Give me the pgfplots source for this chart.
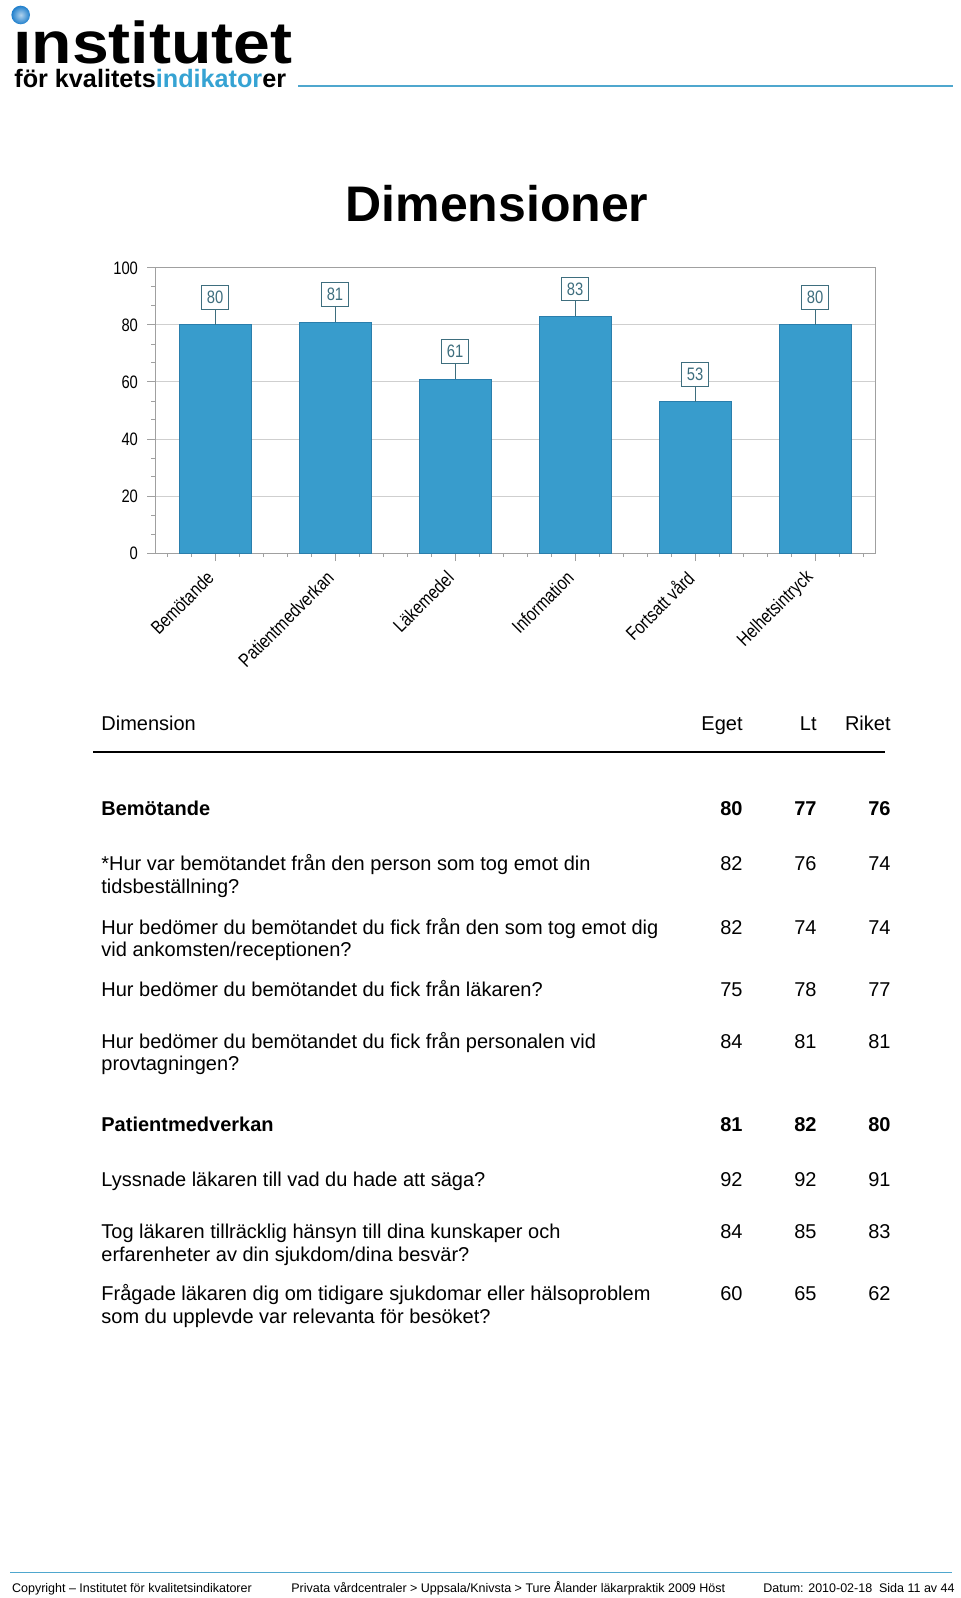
\documentclass[border=0pt]{standalone}
\usepackage{fontspec}
\setmainfont{Liberation Sans}
\newfontfamily\narrowfont[FakeStretch=0.82]{Liberation Sans}
\newfontfamily\logofont[FakeStretch=1.12]{Liberation Sans}
\usepackage{pgfplots}
\pgfplotsset{compat=1.18}
\definecolor{barc}{HTML}{389CCC}
\definecolor{barb}{HTML}{2A7EAC}
\definecolor{gridc}{HTML}{CFCFCF}
\definecolor{framec}{HTML}{A0A0A0}
\definecolor{labc}{HTML}{3E6E7E}
\definecolor{logoblue}{HTML}{36A3D3}
\definecolor{dotblue}{HTML}{1F7FCC}
\definecolor{linec}{HTML}{4FA7CE}
\newcommand\fs[1]{\fontsize{#1pt}{#1pt}\selectfont}
\newcommand\txt[3][]{\node[anchor=base west,inner sep=0,#1] at (101,#2) {\fs{10}#3};}
\newcommand\vals[4]{%
  \node[anchor=base east,inner sep=0] at (743,#1) {\fs{10}#2};
  \node[anchor=base east,inner sep=0] at (817,#1) {\fs{10}#3};
  \node[anchor=base east,inner sep=0] at (891,#1) {\fs{10}#4};}
\begin{document}
\begin{tikzpicture}
\begin{scope}[x=0.5pt,y=-0.5pt]
\path[use as bounding box] (0,0) rectangle (960,1598);
% logo
\node[anchor=base west,inner sep=0] at (13,63.3) {\logofont\bfseries\fs{29.5}ınstitutet};
\shade[inner color=dotblue!35!white, outer color=dotblue] (20.7,15) circle (9.3);
\node[anchor=base west,inner sep=0] at (14,87.3) {\bfseries\fs{12.6}för kvalitets\textcolor{logoblue}{indikator}er};
\draw[linec,line width=0.75pt] (298,86) -- (953,86);
% title
\node[anchor=base,inner sep=0] at (497,222) {\bfseries\fs{25}Dimensioner};
% table header
\txt{730.7}{Dimension}
\vals{730.7}{Eget}{Lt}{Riket}
\draw[black,line width=1pt] (93,751.7) -- (885,751.7);
% Bemötande
\txt{815}{\bfseries Bemötande}
\vals{815}{\bfseries 80}{\bfseries 77}{\bfseries 76}
\txt{870.7}{*Hur var bemötandet från den person som tog emot din}
\txt{893.3}{tidsbeställning?}
\vals{870.7}{82}{76}{74}
\txt{934}{Hur bedömer du bemötandet du fick från den som tog emot dig}
\txt{956.7}{vid ankomsten/receptionen?}
\vals{934}{82}{74}{74}
\txt{996.7}{Hur bedömer du bemötandet du fick från läkaren?}
\vals{996.7}{75}{78}{77}
\txt{1048.3}{Hur bedömer du bemötandet du fick från personalen vid}
\txt{1070.7}{provtagningen?}
\vals{1048.3}{84}{81}{81}
% Patientmedverkan
\txt{1131.7}{\bfseries Patientmedverkan}
\vals{1131.7}{\bfseries 81}{\bfseries 82}{\bfseries 80}
\txt{1186.7}{Lyssnade läkaren till vad du hade att säga?}
\vals{1186.7}{92}{92}{91}
\txt{1238.3}{Tog läkaren tillräcklig hänsyn till dina kunskaper och}
\txt{1261}{erfarenheter av din sjukdom/dina besvär?}
\vals{1238.3}{84}{85}{83}
\txt{1300.7}{Frågade läkaren dig om tidigare sjukdomar eller hälsoproblem}
\txt{1323.3}{som du upplevde var relevanta för besöket?}
\vals{1300.7}{60}{65}{62}
% footer
\draw[linec,line width=0.75pt] (10,1572.7) -- (952,1572.7);
\node[anchor=base west,inner sep=0] at (11.7,1592.3) {\fs{6.25}Copyright – Institutet för kvalitetsindikatorer};
\node[anchor=base west,inner sep=0] at (291,1592.3) {\fs{6.25}Privata vårdcentraler > Uppsala/Knivsta > Ture Ålander läkarpraktik 2009 Höst};
\node[anchor=base west,inner sep=0] at (763,1592.3) {\fs{6.25}Datum: 2010-02-18};
\node[anchor=base east,inner sep=0] at (955,1592.3) {\fs{6.25}Sida 11 av 44};
\end{scope}
\begin{axis}[
  at={(77.5pt,-276.5pt)}, anchor=south west, scale only axis,
  width=360pt, height=142.5pt,
  xmin=-0.5, xmax=5.5, ymin=0, ymax=100,
  clip=false,
  /pgf/number format/assume math mode=true,
  xtick={0,1,2,3,4,5},
  xticklabels={Bemötande,Patientmedverkan,Läkemedel,Information,Fortsatt vård,Helhetsintryck},
  minor xtick={-0.4,-0.2,0.2,0.4,0.6,0.8,1.2,1.4,1.6,1.8,2.2,2.4,2.6,2.8,3.2,3.4,3.6,3.8,4.2,4.4,4.6,4.8,5.2,5.4},
  ytick={0,20,40,60,80,100},
  minor ytick={6.667,13.333,26.667,33.333,46.667,53.333,66.667,73.333,86.667,93.333},
  xtick pos=bottom, ytick pos=left,
  tick align=outside,
  major tick length=4pt, minor tick length=2pt,
  ymajorgrids, major grid style={gridc, line width=0.5pt},
  axis line style={framec, line width=0.5pt},
  every tick/.style={framec, line width=0.5pt},
  xticklabel style={yshift=-6pt, xshift=-1.5pt, rotate=45, anchor=east, font=\narrowfont\fs{9.5}, inner sep=1pt},
  yticklabel style={font=\narrowfont\fs{9}, xshift=-1pt},
]
\addplot[ybar, bar width=0.6, fill=barc, draw=barb, line width=0.5pt,
  nodes near coords,
  every node near coord/.append style={draw=labc, fill=white, text=labc, font=\narrowfont\fs{9}, inner xsep=2.6pt, inner ysep=2.8pt, anchor=south, yshift=7.5pt, line width=0.5pt},
  error bars/.cd, y dir=plus, y fixed=5.3, error mark=none, error bar style={labc, line width=0.5pt}
] coordinates {(0,80) (1,81) (2,61) (3,83) (4,53) (5,80)};
\end{axis}
\end{tikzpicture}
\end{document}
